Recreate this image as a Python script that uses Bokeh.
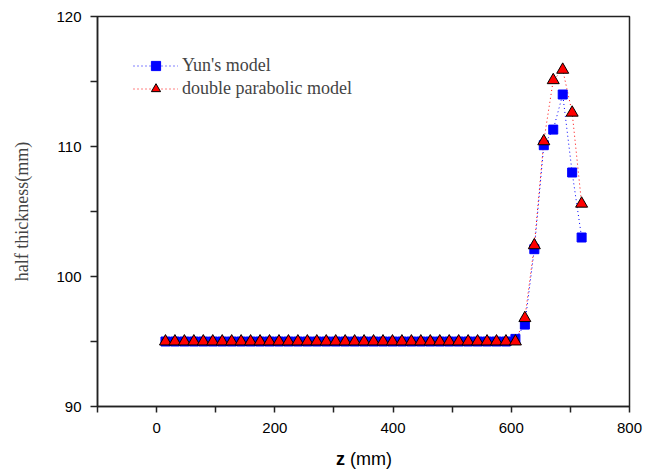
from bokeh.plotting import figure
from bokeh.models import FixedTicker, Legend, LegendItem, Range1d, Div
from bokeh.layouts import column
from bokeh.embed import file_html
from bokeh.resources import INLINE

# ---- data ----
z = [15, 31, 47, 63, 79, 95, 111, 127, 143, 159, 175, 191, 207, 223, 239,
     255, 271, 287, 303, 319, 335, 351, 367, 383, 399, 415, 431, 447, 463,
     479, 495, 511, 527, 543, 559, 575, 591, 607, 623, 639, 655, 671, 687,
     703, 719]
yun = [95.0] * 37 + [95.2, 96.3, 102.1, 110.1, 111.3, 114.0, 108.0, 103.0]
dpm = [95.0] * 38 + [96.8, 102.4, 110.4, 115.1, 115.9, 112.6, 105.6]

x_ticks = [-100, 0, 100, 200, 300, 400, 500, 600, 700, 800]
x_labels = {-100: "", 0: "0", 100: "", 200: "200", 300: "", 400: "400",
            500: "", 600: "600", 700: "", 800: "800"}
y_ticks = [90, 95, 100, 105, 110, 115, 120]
y_labels = {90: "90", 95: "", 100: "100", 105: "", 110: "110", 115: "", 120: "120"}

p = figure(width=654, height=449, frame_width=532, frame_height=390,
           x_range=Range1d(-100, 800), y_range=Range1d(90, 120),
           output_backend="svg", toolbar_location=None,
           min_border_left=97, min_border_right=25, min_border_top=16,
           min_border_bottom=43)
p.grid.visible = False
p.outline_line_color = "#222222"
p.outline_line_width = 1.5
p.background_fill_color = "white"
p.border_fill_color = "white"

for ax in (p.xaxis[0], p.yaxis[0]):
    ax.axis_line_width = 1.5
    ax.axis_line_color = "#222222"
    ax.major_tick_line_width = 1.5
    ax.major_tick_line_color = "#222222"
    ax.minor_tick_line_color = None
    ax.major_tick_in = 0
    ax.major_label_text_font = "Liberation Sans"
    ax.major_label_text_font_size = "15px"
    ax.major_label_text_color = "black"

p.xaxis[0].ticker = FixedTicker(ticks=x_ticks)
p.xaxis[0].major_label_overrides = x_labels
p.xaxis[0].major_tick_out = 6
p.xaxis[0].major_label_standoff = 10
p.xaxis[0].axis_label = None

p.yaxis[0].ticker = FixedTicker(ticks=y_ticks)
p.yaxis[0].major_label_overrides = y_labels
p.yaxis[0].major_tick_out = 7
p.yaxis[0].major_label_standoff = 9
p.yaxis[0].axis_label = "half thickness(mm)"
p.yaxis[0].axis_label_text_font = "Liberation Serif"
p.yaxis[0].axis_label_text_font_style = "normal"
p.yaxis[0].axis_label_text_font_size = "18px"
p.yaxis[0].axis_label_standoff = 21

# series
l1 = p.line(z, yun, line_color="blue", line_dash="1 3", line_width=1)
l2 = p.line(z, dpm, line_color="red", line_dash="1 3", line_width=1)
s1 = p.scatter(z, yun, marker="square", size=9, fill_color="blue", line_color="blue")
s2 = p.scatter(z, dpm, marker="triangle", size=12, fill_color="red",
               line_color="black", line_width=1)

legend = Legend(items=[LegendItem(label="Yun's model", renderers=[l1, s1]),
                       LegendItem(label="double parabolic model", renderers=[l2, s2])],
                location=(36, 306), padding=0, spacing=0, margin=0,
                glyph_width=45, glyph_height=23, label_height=23,
                label_standoff=4, border_line_color=None,
                background_fill_alpha=0,
                label_text_font="Liberation Serif", label_text_font_size="18px")
p.add_layout(legend, "center")

# x axis title: bold "z" + " (mm)"
xtitle = Div(text='<div style="font-family:\'Liberation Sans\';font-size:18px;'
                  'line-height:20px;padding-left:336px;color:black;white-space:nowrap;">'
                  '<b>z</b> (mm)</div>',
             width=654, height=22, margin=0)

layout = column(p, xtitle, spacing=0)
open("out.html", "w").write(file_html(layout, INLINE))
